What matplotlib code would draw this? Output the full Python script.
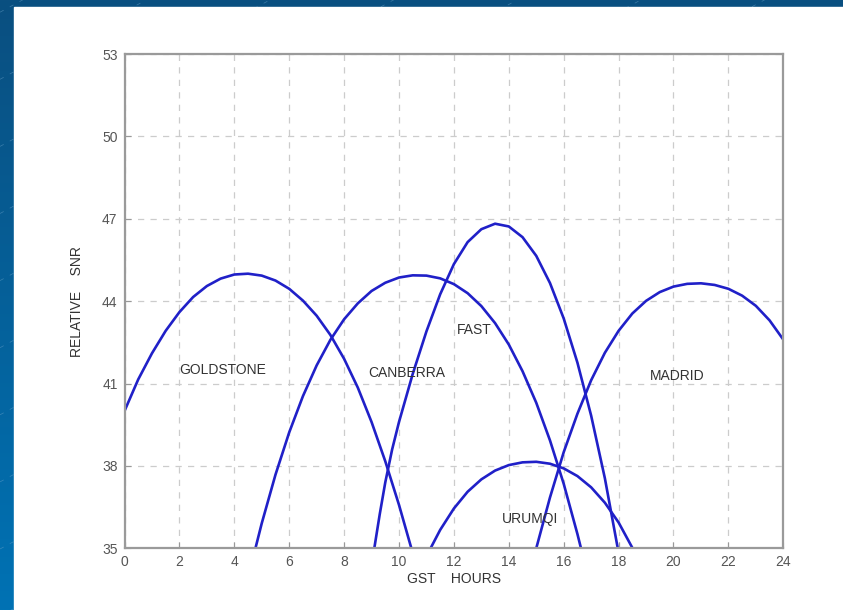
import numpy as np
import matplotlib
matplotlib.use("Agg")
import matplotlib.pyplot as plt

plt.rcParams['font.family'] = ['Liberation Sans', 'DejaVu Sans']

# relative SNR (dB) per station vs GST hours
gold_t = [0, 0.5, 1, 1.5, 2, 2.5, 3, 3.5, 4, 4.5, 5, 5.5, 6, 6.5, 7, 7.5, 8, 8.5, 9, 9.5, 10, 10.45]
gold_snr = [40.0, 41.15, 42.1, 42.92, 43.6, 44.15, 44.55, 44.82, 44.97, 45.0, 44.93, 44.75, 44.45,
            44.02, 43.47, 42.77, 41.9, 40.85, 39.6, 38.17, 36.58, 35.0]

canb_t = [4.77, 5, 5.5, 6, 6.5, 7, 7.5, 8, 8.5, 9, 9.5, 10, 10.5, 11, 11.5, 12, 12.5, 13, 13.5,
          14, 14.5, 15, 15.5, 16, 16.5, 16.63]
canb_snr = [35.0, 35.91, 37.68, 39.22, 40.54, 41.66, 42.59, 43.34, 43.92, 44.37, 44.67, 44.86,
            44.94, 44.93, 44.83, 44.62, 44.29, 43.82, 43.2, 42.42, 41.45, 40.3, 38.93, 37.35,
            35.52, 35.0]

fast_t = [9.1, 9.3, 9.5, 9.75, 10, 10.5, 11, 11.5, 12, 12.5, 13, 13.5, 14, 14.5, 15, 15.5, 16,
          16.5, 17, 17.5, 17.97]
fast_snr = [35.0, 36.25, 37.4, 38.6, 39.6, 41.35, 42.9, 44.25, 45.35, 46.15, 46.62, 46.82, 46.72,
            46.33, 45.65, 44.66, 43.37, 41.76, 39.83, 37.55, 35.0]

urum_t = [11.15, 11.5, 12, 12.5, 13, 13.5, 14, 14.5, 15, 15.5, 16, 16.5, 17, 17.5, 18, 18.51]
urum_snr = [35.0, 35.67, 36.45, 37.06, 37.51, 37.83, 38.03, 38.13, 38.15, 38.08, 37.91, 37.63,
            37.22, 36.66, 35.94, 35.0]

madr_t = [15.0, 15.5, 16, 16.5, 17, 17.5, 18, 18.5, 19, 19.5, 20, 20.5, 21, 21.5, 22, 22.5, 23,
          23.5, 24]
madr_snr = [35.0, 36.85, 38.5, 39.9, 41.12, 42.12, 42.92, 43.55, 44.01, 44.33, 44.53, 44.63,
            44.65, 44.59, 44.45, 44.2, 43.83, 43.3, 42.6]

stations = ["GOLDSTONE", "CANBERRA", "FAST", "URUMQI", "MADRID"]
label_x = [1.99, 8.87, 12.11, 13.75, 19.14]
label_y = [41.48, 41.38, 42.94, 36.07, 41.27]

x_ticks = list(range(0, 25, 2))
y_ticks = [35, 38, 41, 44, 47, 50, 53]

fig = plt.figure(figsize=(8.43, 6.10), dpi=100)

# blue slide backdrop with the white panel on top
bg = fig.add_axes([0, 0, 1, 1])
grad = np.linspace(0, 1, 256)
bg.imshow(np.outer(grad, np.ones(2)), cmap=matplotlib.colors.LinearSegmentedColormap.from_list(
    "slide", ["#0a4f80", "#0072b4"]), aspect="auto", extent=[0, 1, 0, 1], origin="upper")
for k in np.arange(-1.0, 1.2, 0.11):
    bg.plot([0, 1], [k, k + 0.75], color="#6fa6cc", lw=0.5, ls=(0, (6, 10)), alpha=0.5)
bg.add_patch(plt.Rectangle((14 / 843, 0), 1, 1 - 7 / 610, color="white", zorder=5))
bg.set_xlim(0, 1)
bg.set_ylim(0, 1)
bg.axis("off")

ax = fig.add_axes([124.5 / 843, 1 - 548.3 / 610, 658.8 / 843, 494.3 / 610])
ax.set_zorder(10)
line_kw = dict(color="#2020c8", lw=1.9, solid_joinstyle="round")
ax.plot(gold_t, gold_snr, **line_kw)
ax.plot(canb_t, canb_snr, **line_kw)
ax.plot(fast_t, fast_snr, **line_kw)
ax.plot(urum_t, urum_snr, **line_kw)
ax.plot(madr_t, madr_snr, **line_kw)

for name, tx, ty in zip(stations, label_x, label_y):
    ax.text(tx, ty, name, fontsize=10, color="#333333", ha="left", va="center")

ax.set_xlim(0, 24)
ax.set_ylim(35, 53)
ax.set_xticks(x_ticks)
ax.set_yticks(y_ticks)
ax.tick_params(direction="in", length=4, color="#999999", labelcolor="#555555", labelsize=10,
               pad=5)
ax.grid(True, color="#cccccc", ls=(0, (5, 5)), lw=0.9)
for s in ax.spines.values():
    s.set_color("#9a9a9a")
    s.set_linewidth(1.6)

ax.set_xlabel("GST    HOURS", fontsize=10, color="#333333")
ax.set_ylabel("RELATIVE    SNR", fontsize=10, color="#333333")
ax.xaxis.set_label_coords(0.5, -0.048)
ax.yaxis.set_label_coords(-0.062, 0.5)

fig.savefig("out.png", dpi=100)
